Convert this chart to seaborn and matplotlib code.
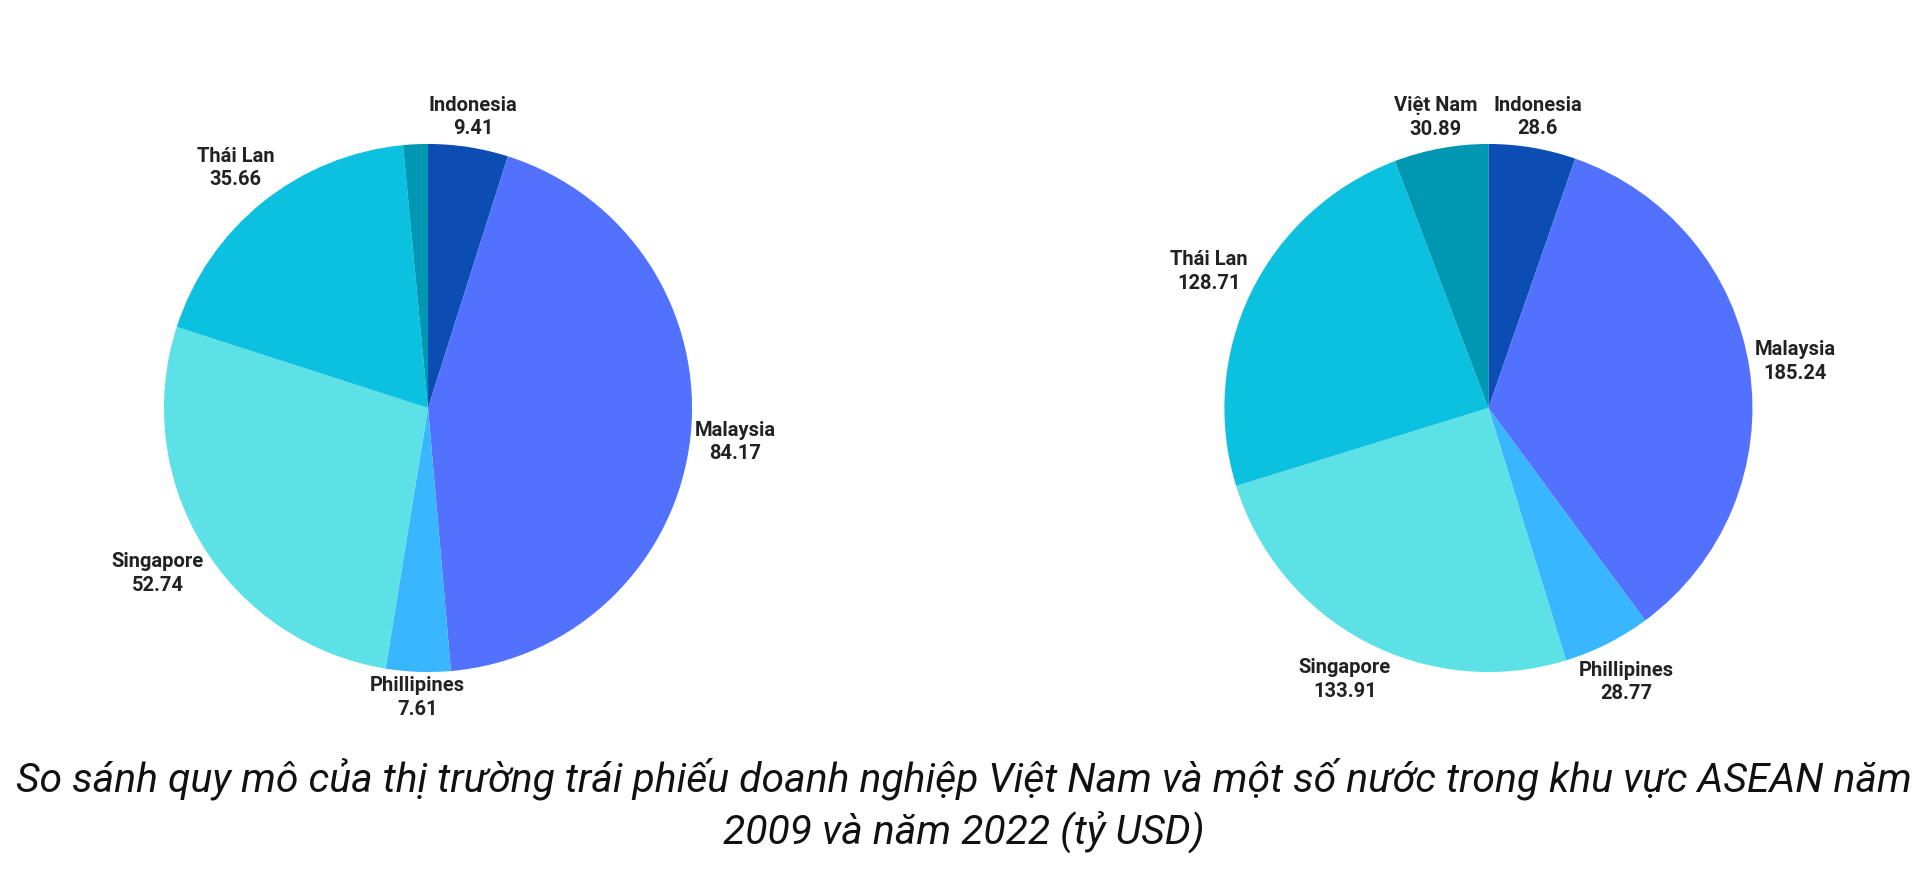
import matplotlib
matplotlib.use('Agg')
import matplotlib.pyplot as plt
import numpy as np
import seaborn as sns

sns.set_theme(style='white')
plt.rcParams['font.family'] = ['Roboto', 'DejaVu Sans']

# Data (tỷ USD), order clockwise from 12 o'clock
countries = ['Indonesia', 'Malaysia', 'Phillipines', 'Singapore', 'Thái Lan', 'Việt Nam']
values_2009 = [9.41, 84.17, 7.61, 52.74, 35.66, 2.9]
values_2022 = [28.6, 185.24, 28.77, 133.91, 128.71, 30.89]
show_label_2009 = [True, True, True, True, True, False]
show_label_2022 = [True, True, True, True, True, True]
colors = ['#0B4DB3', '#5271FF', '#38B6FF', '#5CE1E6', '#0CC0DF', '#0097B2']

caption = ('So sánh quy mô của thị trường trái phiếu doanh nghiệp Việt Nam và một số nước trong khu vực ASEAN năm\n'
           '2009 và năm 2022 (tỷ USD)')

fig = plt.figure(figsize=(19.28, 8.92), dpi=100)
ax1 = fig.add_axes([0.085, 0.2466, 0.274, 0.592])
ax2 = fig.add_axes([0.635, 0.2466, 0.274, 0.592])


def draw_pie(ax, values, show):
    labels = [f'{c}\n{v:g}' if s else '' for c, v, s in zip(countries, values, show)]
    wedges, texts = ax.pie(values, labels=labels, colors=colors, startangle=90,
                           counterclock=False, labeldistance=1.1,
                           textprops={'fontsize': 14.5, 'fontweight': 'bold', 'color': '#222222'},
                           wedgeprops={'linewidth': 0})
    for t in texts:
        t.set_ha('center')
        t.set_va('center')
        t.set_linespacing(1.3)
        t.set_clip_on(False)
    ax.set_xlim(-1, 1)
    ax.set_ylim(-1, 1)
    ax.set_aspect('equal')
    return wedges, texts


pies = [(ax1, draw_pie(ax1, values_2009, show_label_2009)),
        (ax2, draw_pie(ax2, values_2022, show_label_2022))]

# push each label out so its box just clears the rim
fig.canvas.draw()
renderer = fig.canvas.get_renderer()
for ax, (wedges, texts) in pies:
    px = ax.transData.transform((1, 0))[0] - ax.transData.transform((0, 0))[0]
    for w, t in zip(wedges, texts):
        ang = np.deg2rad((w.theta1 + w.theta2) / 2)
        dx, dy = np.cos(ang), np.sin(ang)
        bb = t.get_window_extent(renderer)
        hw, hh = bb.width / 2 / px, bb.height / 2 / px
        d = 1.01 + abs(dx) * hw + abs(dy) * hh
        t.set_position((d * dx, d * dy))

fig.text(0.5, 0.097, caption, ha='center', va='center', fontsize=29.4,
         style='italic', color='#111111', linespacing=1.3)

fig.savefig('out.png', dpi=100, facecolor='white')
